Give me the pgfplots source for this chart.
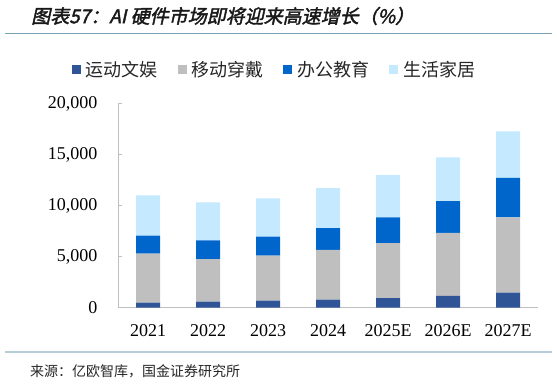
\documentclass[border=0pt]{standalone}
\usepackage{pgfplots}
\pgfplotsset{compat=1.18}
\usepackage{fontspec}
\setmainfont{Liberation Serif}
\newfontfamily\cjk{Noto Sans CJK SC}
\newfontfamily\cjktitle[FakeSlant=0.22,FakeBold=2]{Noto Sans CJK SC}
\definecolor{csport}{HTML}{2F5597}
\definecolor{cwear}{HTML}{BFBFBF}
\definecolor{coffice}{HTML}{0066CC}
\definecolor{chome}{HTML}{C5E9FF}
\definecolor{caxis}{HTML}{BFBFBF}
\definecolor{ctopline}{HTML}{7BA3B8}
\definecolor{cbotline}{HTML}{B8CDD9}
\begin{document}
\begin{tikzpicture}
\useasboundingbox (0,0) rectangle (557bp,384bp);
\draw[ctopline, line width=1.2bp] (5bp,350.7bp) -- (552bp,350.7bp);
\draw[cbotline, line width=1.2bp] (5bp,32bp) -- (552bp,32bp);
\node[anchor=west, inner sep=0pt, text=black!90] at (31bp,368bp) {\fontsize{19bp}{21bp}\cjktitle 图表57：AI 硬件市场即将迎来高速增长（\%）};
\node[anchor=west, inner sep=0pt, text=black!85] at (30bp,13bp) {\fontsize{14bp}{16bp}\cjk 来源：亿欧智库，国金证券研究所};
\begin{axis}[
  at={(118bp,76.3bp)}, anchor=south west,
  width=420bp, height=203.7bp, scale only axis,
  ybar stacked, bar width=24bp,
  xmin=-0.5, xmax=6.5, ymin=0, ymax=20000,
  xtick={0,...,6},
  xticklabels={2021,2022,2023,2024,2025E,2026E,2027E},
  minor xtick={-0.5,0.5,...,6.5},
  ytick={0,5000,10000,15000,20000},
  axis lines*=left,
  axis line style={caxis, line width=1bp},
  major tick length=4bp, minor tick length=5bp,
  tick align=inside,
  xtick style={draw=none},
  minor x tick style={caxis, line width=1bp},
  ytick style={caxis, line width=1bp},
  tick label style={font=\fontsize{18bp}{20bp}\selectfont, text=black},
  xticklabel style={yshift=-13bp},
  yticklabel style={xshift=-17bp},
  /pgf/number format/assume math mode=true,
  /pgf/number format/.cd, 1000 sep={,}, /pgfplots/.cd,
  scaled y ticks=false,
  legend columns=4,
  legend style={at={(0.3726,1.167)}, anchor=center, draw=none, fill=none,
    font=\fontsize{18bp}{20bp}\cjk, text=black!85,
    /tikz/every odd column/.style={column sep=3bp},
    /tikz/every even column/.style={column sep=18bp}},
  legend cell align=left,
  legend image code/.code={\fill[#1] (0bp,-4.5bp) rectangle (9bp,4.5bp);},
]
\addplot[fill=csport, draw=none] coordinates {(0,500) (1,590) (2,690) (3,790) (4,950) (5,1170) (6,1470)};
\addlegendentry{运动文娱}
\addplot[fill=cwear, draw=none] coordinates {(0,4820) (1,4170) (2,4430) (3,4880) (4,5380) (5,6170) (6,7400)};
\addlegendentry{移动穿戴}
\addplot[fill=coffice, draw=none] coordinates {(0,1760) (1,1860) (2,1860) (3,2150) (4,2540) (5,3130) (6,3880)};
\addlegendentry{办公教育}
\addplot[fill=chome, draw=none] coordinates {(0,3940) (1,3720) (2,3750) (3,3920) (4,4170) (5,4300) (6,4560)};
\addlegendentry{生活家居}
\end{axis}
\end{tikzpicture}
\end{document}
